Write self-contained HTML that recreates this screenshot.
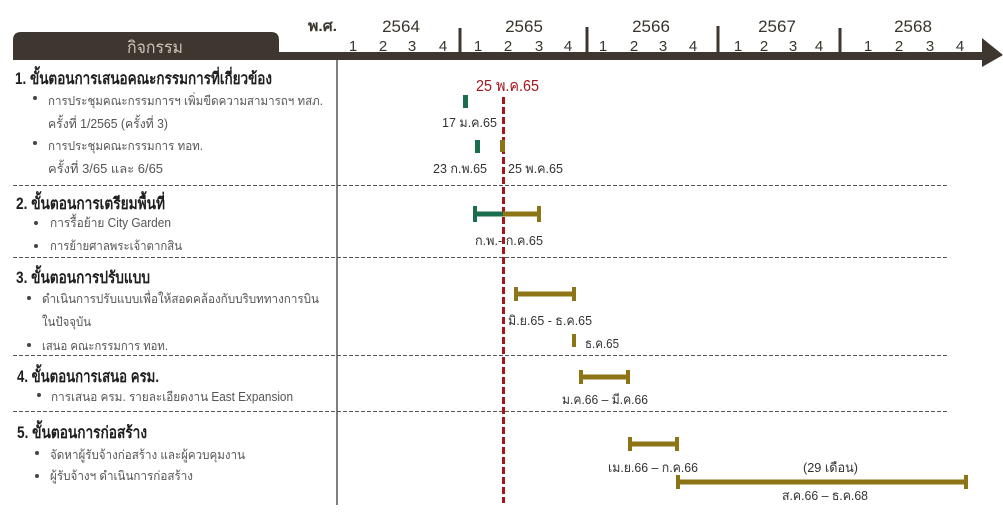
<!DOCTYPE html>
<html><head><meta charset="utf-8">
<style>
html,body{margin:0;padding:0;background:#fff;}
svg{display:block;}
text{font-family:"Liberation Sans","DejaVu Sans",sans-serif;}
.h{font-size:16.5px;font-weight:bold;fill:#1e1e1e;}
.b{font-size:12.5px;fill:#555;}
.l{font-size:13px;fill:#333;}
.q{font-size:15px;fill:#3a342d;text-anchor:middle;}
.y{font-size:17px;fill:#3a342d;text-anchor:middle;}
</style></head>
<body>
<svg width="1003" height="518" viewBox="0 0 1003 518" xmlns="http://www.w3.org/2000/svg">
<rect width="1003" height="518" fill="#fff"/>
<!-- header tab -->
<path d="M13,60 L13,40 Q13,32 21,32 L271,32 Q279,32 279,40 L279,60 Z" fill="#3d3730"/>
<text x="155" y="53" font-size="17" fill="#cbc4bb" text-anchor="middle" textLength="56" lengthAdjust="spacingAndGlyphs">กิจกรรม</text>
<!-- arrow bar -->
<rect x="279" y="52" width="706" height="8" fill="#3d3730"/>
<polygon points="982,38 1003,55 982,67" fill="#3d3730"/>
<!-- year separators -->
<rect x="458.5" y="28" width="3" height="31" fill="#3d3730"/>
<rect x="585.5" y="27" width="3" height="32" fill="#3d3730"/>
<rect x="716.5" y="26" width="3" height="33" fill="#3d3730"/>
<rect x="838.5" y="28" width="3" height="31" fill="#3d3730"/>
<!-- header labels -->
<text x="308" y="31" font-size="15" font-weight="bold" fill="#3a342d" textLength="29" lengthAdjust="spacingAndGlyphs">พ.ศ.</text>
<text class="y" x="401" y="32">2564</text>
<text class="y" x="524" y="32">2565</text>
<text class="y" x="651" y="32">2566</text>
<text class="y" x="777" y="32">2567</text>
<text class="y" x="913" y="32">2568</text>
<g class="q">
<text x="353" y="51">1</text><text x="383" y="51">2</text><text x="412" y="51">3</text><text x="443" y="51">4</text>
<text x="478" y="51">1</text><text x="508" y="51">2</text><text x="539" y="51">3</text><text x="568" y="51">4</text>
<text x="603" y="51">1</text><text x="634" y="51">2</text><text x="663" y="51">3</text><text x="693" y="51">4</text>
<text x="738" y="51">1</text><text x="764" y="51">2</text><text x="793" y="51">3</text><text x="819" y="51">4</text>
<text x="868" y="51">1</text><text x="899" y="51">2</text><text x="930" y="51">3</text><text x="960" y="51">4</text>
</g>
<!-- vertical divider -->
<line x1="337" y1="60" x2="337" y2="505" stroke="#555" stroke-width="1.5"/>
<!-- dashed separators -->
<g stroke="#555" stroke-width="1" stroke-dasharray="4 2">
<line x1="13" y1="185.5" x2="947" y2="185.5"/>
<line x1="13" y1="257.5" x2="947" y2="257.5"/>
<line x1="13" y1="355.5" x2="947" y2="355.5"/>
<line x1="13" y1="411.5" x2="947" y2="411.5"/>
</g>
<!-- red dashed line -->
<line x1="503.5" y1="97" x2="503.5" y2="503" stroke="#a3161c" stroke-width="3" stroke-dasharray="7 3"/>
<text x="476" y="91" font-size="16" fill="#a3161c" textLength="63" lengthAdjust="spacingAndGlyphs">25 พ.ค.65</text>

<!-- Section 1 -->
<text class="h" x="15" y="84" textLength="257" lengthAdjust="spacingAndGlyphs">1. ขั้นตอนการเสนอคณะกรรมการที่เกี่ยวข้อง</text>
<circle cx="35" cy="98" r="2" fill="#444"/>
<text class="b" x="48" y="105" textLength="275" lengthAdjust="spacingAndGlyphs">การประชุมคณะกรรมการฯ เพิ่มขีดความสามารถฯ ทสภ.</text>
<text class="b" x="48" y="128" textLength="120" lengthAdjust="spacingAndGlyphs">ครั้งที่ 1/2565 (ครั้งที่ 3)</text>
<circle cx="35" cy="143" r="2" fill="#444"/>
<text class="b" x="48" y="150" textLength="155" lengthAdjust="spacingAndGlyphs">การประชุมคณะกรรมการ ทอท.</text>
<text class="b" x="48" y="173" textLength="115" lengthAdjust="spacingAndGlyphs">ครั้งที่  3/65 และ 6/65</text>

<!-- Section 2 -->
<text class="h" x="16" y="209" textLength="149" lengthAdjust="spacingAndGlyphs">2. ขั้นตอนการเตรียมพื้นที่</text>
<circle cx="36" cy="223" r="2" fill="#444"/>
<text class="b" x="50" y="227" textLength="121" lengthAdjust="spacingAndGlyphs">การรื้อย้าย City Garden</text>
<circle cx="36" cy="246" r="2" fill="#444"/>
<text class="b" x="50" y="250" textLength="132" lengthAdjust="spacingAndGlyphs">การย้ายศาลพระเจ้าตากสิน</text>

<!-- Section 3 -->
<text class="h" x="16" y="283" textLength="134" lengthAdjust="spacingAndGlyphs">3. ขั้นตอนการปรับแบบ</text>
<circle cx="29" cy="298" r="2" fill="#444"/>
<text class="b" x="42" y="303" textLength="277" lengthAdjust="spacingAndGlyphs">ดำเนินการปรับแบบเพื่อให้สอดคล้องกับบริบททางการบิน</text>
<text class="b" x="42" y="326" textLength="49" lengthAdjust="spacingAndGlyphs">ในปัจจุบัน</text>
<circle cx="29" cy="345" r="2" fill="#444"/>
<text class="b" x="42" y="350" textLength="126" lengthAdjust="spacingAndGlyphs">เสนอ คณะกรรมการ ทอท.</text>

<!-- Section 4 -->
<text class="h" x="17" y="382" textLength="142" lengthAdjust="spacingAndGlyphs">4. ขั้นตอนการเสนอ ครม.</text>
<circle cx="39" cy="395" r="2" fill="#444"/>
<text class="b" x="51" y="401" textLength="242" lengthAdjust="spacingAndGlyphs">การเสนอ ครม. รายละเอียดงาน East Expansion</text>

<!-- Section 5 -->
<text class="h" x="17" y="438" textLength="130" lengthAdjust="spacingAndGlyphs">5. ขั้นตอนการก่อสร้าง</text>
<circle cx="37" cy="453" r="2" fill="#444"/>
<text class="b" x="50" y="459" textLength="195" lengthAdjust="spacingAndGlyphs">จัดหาผู้รับจ้างก่อสร้าง และผู้ควบคุมงาน</text>
<circle cx="37" cy="476" r="2" fill="#444"/>
<text class="b" x="50" y="480" textLength="143" lengthAdjust="spacingAndGlyphs">ผู้รับจ้างฯ ดำเนินการก่อสร้าง</text>

<!-- Gantt items -->
<!-- ticks -->
<rect x="463" y="95" width="5" height="13" fill="#1a6e4d"/>
<text class="l" x="442" y="127" textLength="55" lengthAdjust="spacingAndGlyphs">17 ม.ค.65</text>
<rect x="475" y="140" width="5" height="13" fill="#1a6e4d"/>
<rect x="500" y="140" width="5" height="12" fill="#8c7417"/>
<text class="l" x="433" y="173" textLength="54" lengthAdjust="spacingAndGlyphs">23 ก.พ.65</text>
<text class="l" x="508" y="173" textLength="55" lengthAdjust="spacingAndGlyphs">25 พ.ค.65</text>

<!-- section 2 bar -->
<rect x="474" y="211.5" width="29" height="5" fill="#1a6e4d"/>
<rect x="473" y="206" width="4" height="16" fill="#1a6e4d"/>
<rect x="503" y="211.5" width="36" height="5" fill="#8c7417"/>
<rect x="537" y="206" width="4" height="16" fill="#8c7417"/>
<text class="l" x="475" y="245" textLength="68" lengthAdjust="spacingAndGlyphs">ก.พ.- ก.ค.65</text>

<!-- section 3 -->
<rect x="515" y="291.5" width="59" height="5" fill="#8c7417"/>
<rect x="514" y="287" width="4" height="14" fill="#8c7417"/>
<rect x="572" y="287" width="4" height="14" fill="#8c7417"/>
<text class="l" x="508" y="325" textLength="84" lengthAdjust="spacingAndGlyphs">มิ.ย.65 - ธ.ค.65</text>
<rect x="572" y="334" width="4" height="13" fill="#8c7417"/>
<text class="l" x="585" y="348" textLength="34" lengthAdjust="spacingAndGlyphs">ธ.ค.65</text>

<!-- section 4 -->
<rect x="580" y="374.5" width="49" height="5" fill="#8c7417"/>
<rect x="579" y="370" width="4" height="14" fill="#8c7417"/>
<rect x="626" y="370" width="4" height="14" fill="#8c7417"/>
<text class="l" x="562" y="404" textLength="86" lengthAdjust="spacingAndGlyphs">ม.ค.66 – มี.ค.66</text>

<!-- section 5 -->
<rect x="629" y="441.5" width="48" height="5" fill="#8c7417"/>
<rect x="628" y="437" width="4" height="14" fill="#8c7417"/>
<rect x="675" y="437" width="4" height="14" fill="#8c7417"/>
<text class="l" x="608" y="472" textLength="90" lengthAdjust="spacingAndGlyphs">เม.ย.66 – ก.ค.66</text>
<text class="l" x="803" y="472" textLength="55" lengthAdjust="spacingAndGlyphs">(29 เดือน)</text>
<rect x="677" y="479.5" width="290" height="5" fill="#8c7417"/>
<rect x="676" y="475" width="4" height="14" fill="#8c7417"/>
<rect x="964" y="475" width="4" height="14" fill="#8c7417"/>
<text class="l" x="782" y="500" textLength="86" lengthAdjust="spacingAndGlyphs">ส.ค.66 – ธ.ค.68</text>
</svg>
</body></html>
